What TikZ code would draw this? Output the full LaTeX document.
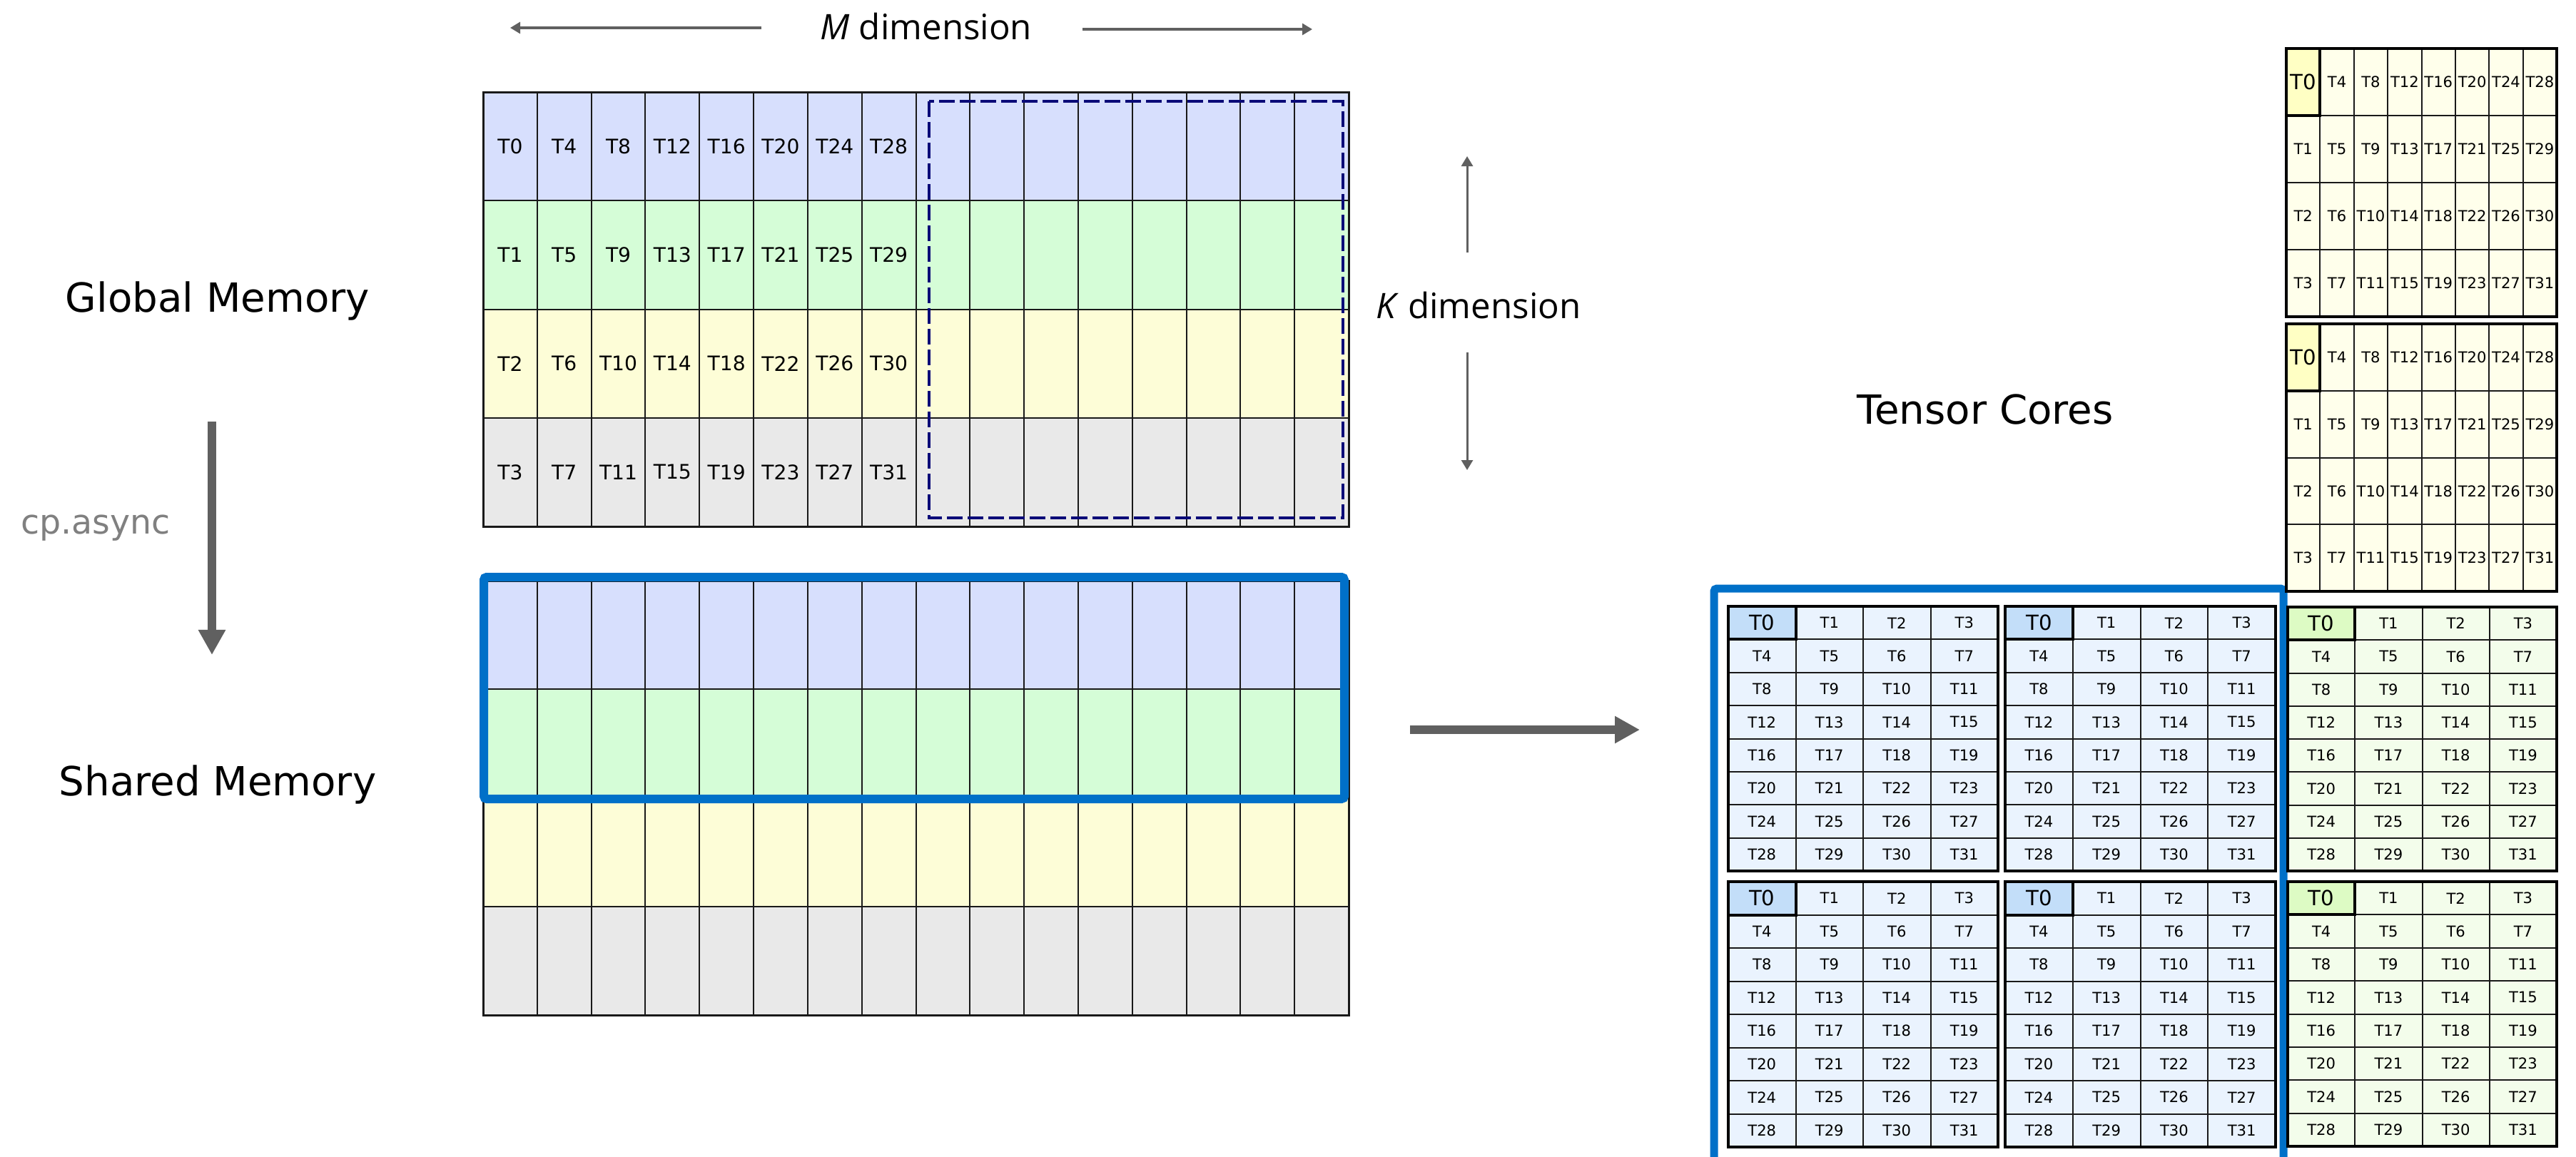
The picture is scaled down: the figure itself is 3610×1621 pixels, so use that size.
\documentclass[tikz,border=0pt]{standalone}
\usepackage{fontspec}
\setmainfont{DejaVu Sans}
\newfontfamily\dimfont{Open Sans}
\usetikzlibrary{arrows.meta}

\definecolor{rowA}{HTML}{D7DFFD}
\definecolor{rowB}{HTML}{D5FDD7}
\definecolor{rowC}{HTML}{FDFDD7}
\definecolor{rowD}{HTML}{E9E9E9}
\definecolor{selblue}{HTML}{0070C8}
\definecolor{arrowgray}{HTML}{606060}
\definecolor{tilenavy}{HTML}{0A0A78}
\definecolor{tcBlue}{HTML}{EAF3FE}
\definecolor{tcBlueHi}{HTML}{C3DEF9}
\definecolor{tcGreen}{HTML}{F3FDEB}
\definecolor{tcGreenHi}{HTML}{DDFBC4}
\definecolor{tcYellow}{HTML}{FFFFEB}
\definecolor{tcYellowHi}{HTML}{FFFFC4}
\definecolor{labelgray}{HTML}{808080}

\newcommand\bigT{\fontsize{8.3}{9}\selectfont}

\tikzset{
  cellline/.style={line width=0.02cm, black!90},
  gridframe/.style={line width=0.03cm, black!90},
  tileframe/.style={line width=0.04cm, black},
  glabel/.style={inner sep=0pt, font=\fontsize{8}{9}\selectfont},
  tlabel/.style={inner sep=0pt, font=\fontsize{6}{7}\selectfont},
  biglabel/.style={inner sep=0pt, anchor=base, font=\fontsize{16}{19}\selectfont},
  dimlabel/.style={inner sep=0pt, anchor=base, font=\dimfont\fontsize{14}{17}\selectfont},
  fatarrow/.style={arrowgray, line width=0.12cm, -{Triangle[width=0.36cm,length=0.35cm]}},
  thinarrow/.style={arrowgray, line width=0.03cm, -{Triangle[width=0.16cm,length=0.14cm]}},
}

% thread tile: x, y, width, height, columns, rows, fill, T0 fill, name
\newcommand\threadtile[9]{%
  \pgfmathsetmacro\cw{#3/#5}%
  \pgfmathsetmacro\ch{#4/#6}%
  \pgfmathtruncatemacro\lastc{#5-1}%
  \pgfmathtruncatemacro\lastr{#6-1}%
  \fill[#7] (#1,#2) rectangle ++(#3,#4);
  \fill[#8] (#1,#2) rectangle ++(\cw,\ch);
  \foreach \c in {1,...,\lastc} \draw[cellline] ({#1+\c*\cw},#2) -- ++(0,#4);
  \foreach \r in {1,...,\lastr} \draw[cellline] (#1,{#2+\r*\ch}) -- ++(#3,0);
  \foreach \c in {0,...,\lastc} {
    \foreach \r in {0,...,\lastr} {
      \ifnum#5=4 \pgfmathtruncatemacro\t{4*\r+\c}\else\pgfmathtruncatemacro\t{4*\c+\r}\fi
      \node[tlabel] (#9-\t) at ({#1+(\c+0.5)*\cw},{#2+(\r+0.5)*\ch}) {\ifnum\t=0 \bigT T0\else T\t\fi};
    }
  }
  \draw[tileframe] (#1,#2) rectangle ++(\cw,\ch);
  \draw[tileframe] (#1,#2) rectangle ++(#3,#4);
}

\begin{document}
\begin{tikzpicture}[x=0.01cm, y=-0.01cm]
\useasboundingbox (0,0) rectangle (3610,1621);
\clip (0,0) rectangle (3610,1621);
\fill[white] (0,0) rectangle (3610,1621);

% ---- left labels and cp.async arrow
\node[biglabel] (gmem) at (305,437) {Global Memory};
\node[biglabel] (smem) at (305,1115) {Shared Memory};
\node[inner sep=0pt, anchor=base, text=labelgray, font=\fontsize{13.5}{16}\selectfont] (cpasync) at (134,748) {cp.async};
\coordinate (cpA) at (297,591);
\coordinate (cpB) at (297,918);
\draw[fatarrow] (cpA) -- (cpB);

% ---- global memory tile and shared memory tile (16 x 4)
\foreach \r/\col in {0/rowA,1/rowB,2/rowC,3/rowD} {
  \fill[\col] (677,{129+152.25*\r}) rectangle ++(1213,152.25);
  \fill[\col] (677,{814+152.25*\r}) rectangle ++(1213,152.25);
}
\foreach \c in {1,...,15} {
  \draw[cellline] ({677+75.8125*\c},129) -- ++(0,609);
  \draw[cellline] ({677+75.8125*\c},814) -- ++(0,609);
}
\foreach \r in {1,2,3} {
  \draw[cellline] (677,{129+152.25*\r}) -- ++(1213,0);
  \draw[cellline] (677,{814+152.25*\r}) -- ++(1213,0);
}
\draw[gridframe] (677,129) rectangle ++(1213,609);
\draw[gridframe] (677,814) rectangle ++(1213,609);
\foreach \c in {0,...,7} {
  \foreach \r in {0,...,3} {
    \pgfmathtruncatemacro\t{4*\c+\r}
    \node[glabel] (g\t) at ({677+75.8125*(\c+0.5)},{129+152.25*(\r+0.5)}) {T\t};
  }
}
\draw[tilenavy, line width=0.035cm, dash pattern=on 0.22cm off 0.07cm] (1302,142) rectangle (1882,726);

% ---- shared memory selection
\draw[selblue, line width=0.12cm, rounded corners=0.04cm] (678,809) rectangle (1884,1120);

% ---- dimension labels
\node[dimlabel] (mdim) at (1298,55) {\textit{M} dimension};
\coordinate (mL1) at (1067,39); \coordinate (mL2) at (715,39);
\coordinate (mR1) at (1517,41); \coordinate (mR2) at (1839,41);
\draw[thinarrow] (mL1) -- (mL2);
\draw[thinarrow] (mR1) -- (mR2);
\node[dimlabel] (kdim) at (2072,446) {\textit{K} dimension};
\coordinate (kU1) at (2056,354); \coordinate (kU2) at (2056,219);
\coordinate (kD1) at (2056,494); \coordinate (kD2) at (2056,659);
\draw[thinarrow] (kU1) -- (kU2);
\draw[thinarrow] (kD1) -- (kD2);

% ---- load arrow to tensor cores
\coordinate (ldA) at (1976,1023);
\coordinate (ldB) at (2298,1023);
\draw[fatarrow] (ldA) -- (ldB);
\node[biglabel] (tcores) at (2782,594) {Tensor Cores};

% ---- tensor core operand tiles
\draw[selblue, line width=0.11cm, rounded corners=0.04cm] (2402,825) rectangle (3200,1700);
\threadtile{2422}{850}{378}{371}{4}{8}{tcBlue}{tcBlueHi}{aA}
\threadtile{2810}{850}{379}{371}{4}{8}{tcBlue}{tcBlueHi}{aB}
\threadtile{2422}{1236}{378}{372}{4}{8}{tcBlue}{tcBlueHi}{aC}
\threadtile{2810}{1236}{379}{372}{4}{8}{tcBlue}{tcBlueHi}{aD}
\threadtile{3206}{851}{377}{370}{4}{8}{tcGreen}{tcGreenHi}{cA}
\threadtile{3206}{1236}{377}{371}{4}{8}{tcGreen}{tcGreenHi}{cB}
\threadtile{3204}{68}{379}{376}{8}{4}{tcYellow}{tcYellowHi}{bA}
\threadtile{3204}{454}{379}{375}{8}{4}{tcYellow}{tcYellowHi}{bB}
\end{tikzpicture}
\end{document}
